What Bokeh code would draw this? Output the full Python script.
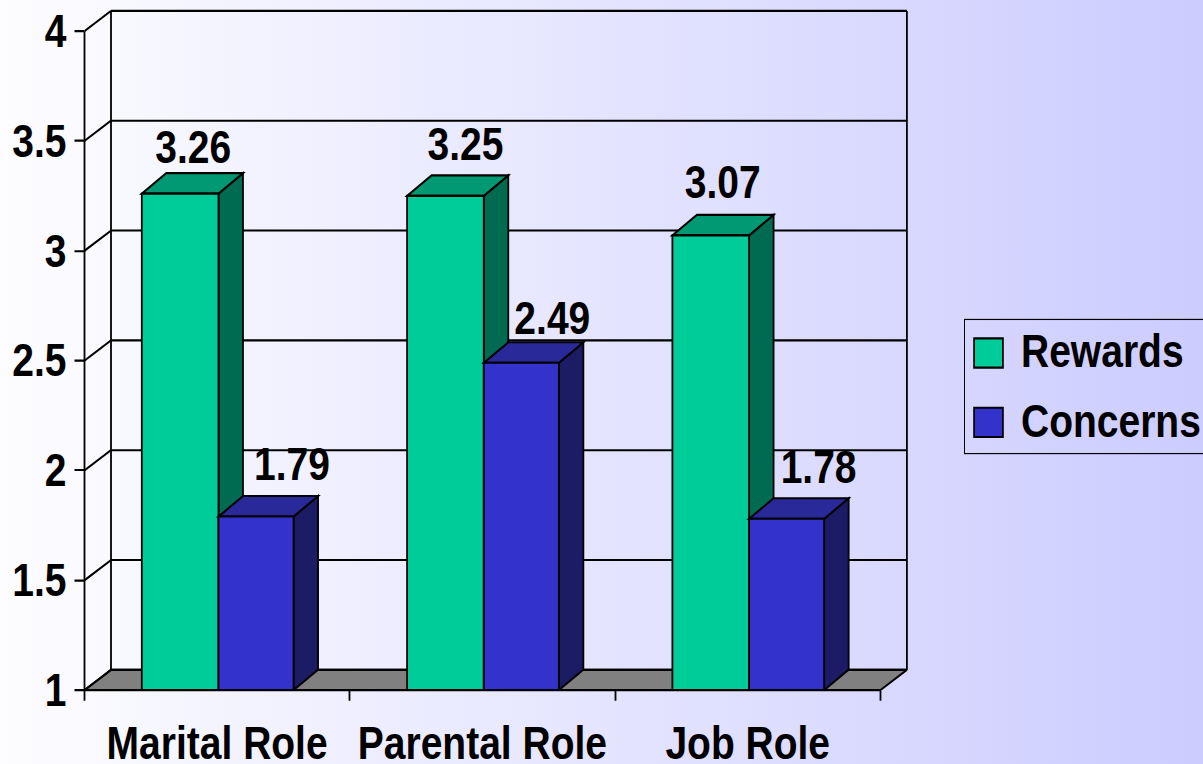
from bokeh.plotting import figure
from bokeh.models import FixedTicker, Legend, LegendItem, GlobalInlineStyleSheet
from bokeh.core.properties import value
from bokeh.embed import file_html
from bokeh.resources import INLINE

categories = ["Marital Role", "Parental Role", "Job Role"]
rewards = [3.26, 3.25, 3.07]
concerns = [1.79, 2.49, 1.78]
y_ticks = [1, 1.5, 2, 2.5, 3, 3.5, 4]
y_tick_labels = ["1", "1.5", "2", "2.5", "3", "3.5", "4"]

# label placement (px nudges in the picture)
rew_dx = [13, 20, 12]
rew_dy = [-47, -52, -53]
con_dx = [36, 31, 32]
con_dy = [-52, -45, -52]

FONT = "Liberation Sans"
S = 1.1766               # the reference's type is tall and narrow: stretch vertically
PX_X = 265.3
PX_Y = 219.8 / S
W = 1203
H_BOX = 574              # CSS height; Bokeh measures the stretched box
LEFT = 84
BOTTOM = 89
FRAME_H = H_BOX * S - BOTTOM
FONT_SIZE = "39px"
wall_dx, wall_dy = 26.5 / PX_X, 20.2 / S / PX_Y
bar_dx, bar_dy = 24.5 / PX_X, 20.5 / S / PX_Y
rew_w = 0.289
con_w = 0.283
start = 0.216
LW = 1.8

GREEN, GREEN_SIDE, GREEN_TOP = "#00CC99", "#006B50", "#009973"
BLUE, BLUE_SIDE, BLUE_TOP = "#3333CC", "#1B1B66", "#292999"

bg = GlobalInlineStyleSheet(css="html{background:linear-gradient(90deg,#fdfdff,#ccccff) fixed;overflow:hidden;}body{margin:0;background:transparent;}")

p = figure(width=W, height=H_BOX, output_backend="svg", toolbar_location=None,
           x_range=(0, (W - LEFT) / PX_X), y_range=(1, 1 + FRAME_H / PX_Y),
           min_border_left=LEFT, min_border_bottom=BOTTOM, min_border_top=0, min_border_right=0,
           background_fill_color=None, border_fill_color=None, outline_line_color=None,
           stylesheets=[bg], styles={"transform": f"scaleY({S})", "transform-origin": "0 0"})
p.grid.visible = False

n = len(categories)
# floor
p.patch([0, wall_dx, n + wall_dx, n], [1, 1 + wall_dy, 1 + wall_dy, 1],
        fill_color="#808080", line_color="black", line_width=LW)
# back wall and its grid
p.multi_line([[wall_dx, wall_dx], [n + wall_dx, n + wall_dx]],
             [[1 + wall_dy, 4 + wall_dy]] * 2, line_color="black", line_width=LW)
p.segment([wall_dx] * len(y_ticks), [t + wall_dy for t in y_ticks],
          [n + wall_dx] * len(y_ticks), [t + wall_dy for t in y_ticks],
          line_color="black", line_width=LW)
# left wall diagonals
p.segment([0] * len(y_ticks), y_ticks, [wall_dx] * len(y_ticks),
          [t + wall_dy for t in y_ticks], line_color="black", line_width=LW)

def bars(xs, vals, w, front, side, top):
    p.patches([[x + w, x + w + bar_dx, x + w + bar_dx, x + w] for x in xs],
              [[1, 1 + bar_dy, v + bar_dy, v] for v in vals],
              fill_color=side, line_color="black", line_width=LW, line_join="miter")
    p.patches([[x, x + bar_dx, x + w + bar_dx, x + w] for x in xs],
              [[v, v + bar_dy, v + bar_dy, v] for v in vals],
              fill_color=top, line_color="black", line_width=LW, line_join="miter")
    return p.vbar(x=[x + w / 2 for x in xs], width=w, bottom=1, top=vals,
                  fill_color=front, line_color="black", line_width=LW, line_join="miter")

x_rew = [i + start for i in range(n)]
x_con = [i + start + rew_w for i in range(n)]
r_rew = bars(x_rew, rewards, rew_w, GREEN, GREEN_SIDE, GREEN_TOP)
r_con = bars(x_con, concerns, con_w, BLUE, BLUE_SIDE, BLUE_TOP)

def labels(xs, vals, w, dx, dy):
    p.text([x + w / 2 for x in xs], vals, text=[f"{v:.2f}" for v in vals],
           x_offset=dx, y_offset=[d / S for d in dy], text_align="center", text_baseline="alphabetic",
           text_font=value(FONT), text_font_style="bold", text_font_size=value(FONT_SIZE),
           text_color="black")

labels(x_rew, rewards, rew_w, rew_dx, rew_dy)
labels(x_con, concerns, con_w, con_dx, con_dy)

# axes
yax = p.yaxis[0]
yax.ticker = FixedTicker(ticks=y_ticks)
yax.major_label_overrides = {t: s for t, s in zip(y_ticks, y_tick_labels)}
yax.bounds = (1, 4)
yax.axis_line_color = "black"
yax.axis_line_width = LW
yax.major_tick_line_color = "black"
yax.major_tick_line_width = LW
yax.major_tick_out = 10
yax.major_tick_in = 0
yax.minor_tick_line_color = None
yax.major_label_standoff = 8
yax.major_label_text_font = FONT
yax.major_label_text_font_style = "bold"
yax.major_label_text_font_size = FONT_SIZE
yax.major_label_text_color = "black"

centers = [i + 0.5 for i in range(n)]
xax = p.xaxis[0]
xax.ticker = FixedTicker(ticks=centers, minor_ticks=list(range(n + 1)))
xax.major_label_overrides = {c: s for c, s in zip(centers, categories)}
xax.bounds = (0, n)
xax.axis_line_color = "black"
xax.axis_line_width = LW
xax.major_tick_line_color = None
xax.major_tick_out = 0
xax.major_tick_in = 0
xax.minor_tick_line_color = "black"
xax.minor_tick_line_width = LW
xax.minor_tick_out = 9
xax.minor_tick_in = 0
xax.major_label_standoff = 15
xax.major_label_text_font = FONT
xax.major_label_text_font_style = "bold"
xax.major_label_text_font_size = FONT_SIZE
xax.major_label_text_color = "black"

legend = Legend(items=[LegendItem(label="Rewards", renderers=[r_rew]),
                       LegendItem(label="Concerns", renderers=[r_con])],
                location=(880, 200), orientation="vertical",
                background_fill_alpha=0, border_line_color="black", border_line_alpha=1,
                border_line_width=LW,
                label_text_font=FONT, label_text_font_style="bold", label_text_color="black",
                label_text_font_size=FONT_SIZE, label_standoff=15,
                glyph_width=36, glyph_height=31, spacing=15, padding=5, margin=0)
p.add_layout(legend, "center")

open("out.html", "w").write(file_html(p, INLINE))
